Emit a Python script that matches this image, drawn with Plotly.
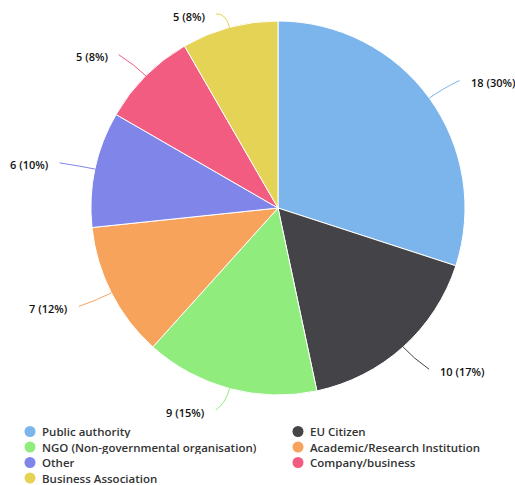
import math
import plotly.graph_objects as go

# ---- data ----
labels = ["Public authority", "EU Citizen", "NGO (Non-governmental organisation)",
          "Academic/Research Institution", "Other", "Company/business", "Business Association"]
values = [18, 10, 9, 7, 6, 5, 5]
colors = ["#7cb5ec", "#434348", "#90ed7d", "#f7a35c", "#8085e9", "#f15c80", "#e4d354"]

# ---- layout constants (pixels) ----
W, H = 515, 485
CX, CY, RAD = 278, 208, 187
DIST = 30
FONT = "Open Sans"

total = sum(values)

fig = go.Figure()
fig.add_trace(go.Pie(
    labels=labels, values=values, sort=False, direction="clockwise", rotation=0,
    marker=dict(colors=colors, line=dict(color="#ffffff", width=1)),
    textinfo="none", hoverinfo="label+value+percent", showlegend=False,
    domain=dict(x=[(CX - RAD) / W, (CX + RAD) / W],
                y=[1 - (CY + RAD) / H, 1 - (CY - RAD) / H]),
))

annotations = []
shapes = []
cum = 0
for lab, v, col in zip(labels, values, colors):
    mid = (cum + v / 2) / total
    cum += v
    th = 2 * math.pi * mid
    s, c = math.sin(th), -math.cos(th)
    sign = 1 if s >= 0 else -1
    R = RAD + DIST
    lx = CX + R * s
    ly = min(max(CY + R * c, 14), 410)
    x0, y0 = CX + RAD * s, CY + RAD * c
    qx, qy = CX + (RAD + 15) * s, CY + (RAD + 15) * c
    ex = lx + 6 * sign
    shapes.append(dict(type="path", xref="x", yref="y",
                       path=f"M {x0:.1f},{y0:.1f} Q {qx:.1f},{qy:.1f} {ex:.1f},{ly:.1f}",
                       line=dict(color=col, width=1), layer="above"))
    pct = round(100 * v / total)
    annotations.append(dict(x=lx + 15 * sign, y=ly + 2, xref="x", yref="y",
                            text=f"{v} ({pct}%)", showarrow=False,
                            xanchor="left" if sign > 0 else "right", yanchor="middle",
                            font=dict(family=FONT, size=11, color="#111", weight=600)))

# ---- legend drawn as markers + text ----
LEG_X0, LEG_DX, LEG_Y0, LEG_DY = 30, 268, 431.5, 15.5
lx_list, ly_list = [], []
for i, (lab, col) in enumerate(zip(labels, colors)):
    xm = LEG_X0 + LEG_DX * (i % 2)
    ym = LEG_Y0 + LEG_DY * (i // 2)
    lx_list.append(xm)
    ly_list.append(ym)
    annotations.append(dict(x=xm + 11, y=ym, xref="x", yref="y", text=lab, showarrow=False,
                            xanchor="left", yanchor="middle", height=13, borderpad=0,
                            font=dict(family=FONT, size=11.5, color="#333", weight=600)))
fig.add_trace(go.Scatter(x=lx_list, y=ly_list, mode="markers",
                         marker=dict(size=11, color=colors, line=dict(width=0)),
                         hoverinfo="skip", showlegend=False))

fig.update_layout(
    width=W, height=H, margin=dict(l=0, r=0, t=0, b=0),
    paper_bgcolor="#ffffff", plot_bgcolor="rgba(0,0,0,0)",
    xaxis=dict(range=[0, W], visible=False, domain=[0, 1], fixedrange=True),
    yaxis=dict(range=[H, 0], visible=False, domain=[0, 1], fixedrange=True),
    annotations=annotations, shapes=shapes, showlegend=False,
)

fig.write_html("out.html", config={"displayModeBar": False},
               post_script="document.body.style.margin='0';document.body.style.overflow='hidden';")
